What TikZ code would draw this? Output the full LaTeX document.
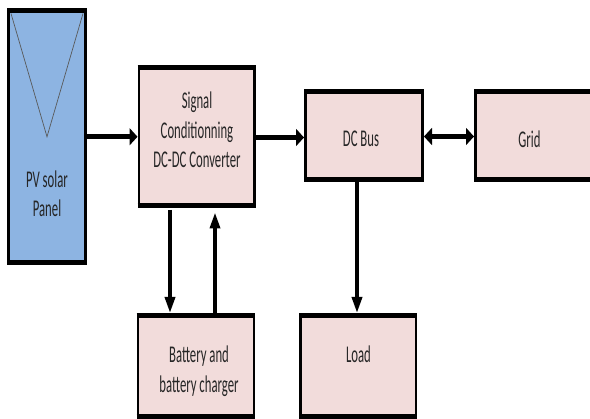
\documentclass[tikz,border=0pt]{standalone}
\usepackage{fontspec}
\setmainfont{Carlito}[FakeStretch=0.53]
\usetikzlibrary{arrows.meta,calc}
\definecolor{boxpink}{HTML}{F2DCDB}
\definecolor{pvblue}{HTML}{8DB4E2}
\definecolor{txtgray}{HTML}{262626}
\begin{document}
\begin{tikzpicture}[x=1pt,y=-1pt,
  blk/.style={draw=black, line width=2.6pt, fill=boxpink, inner sep=0pt, outer sep=0pt},
  lbl/.style={anchor=base, inner sep=0pt, text=txtgray, font=\fontsize{24pt}{29pt}\selectfont},
  harrow/.style={line width=5.5pt, -{Triangle[length=8pt,width=17pt]}},
  harrows/.style={line width=5.5pt, {Triangle[length=8pt,width=17pt]}-{Triangle[length=8pt,width=17pt]}},
  varrow/.style={line width=3.5pt, -{Triangle[length=16pt,width=10pt]}},
  thickedge/.style={line width=5pt}]
\fill[white] (0,0) rectangle (590,419);
\useasboundingbox (0,0) rectangle (590,419);
% boxes
\node[blk, fill=pvblue, minimum width=77pt, minimum height=252.5pt] (pv) at (47,136.75) {};
\node[blk, minimum width=115.5pt, minimum height=138pt] (sig) at (196.75,136.5) {};
\node[blk, minimum width=117pt, minimum height=88pt] (dc) at (364,135.5) {};
\node[blk, minimum width=117pt, minimum height=88pt] (grid) at (534,135.5) {};
\node[blk, minimum width=116pt, minimum height=101.5pt] (bat) at (196,366.25) {};
\node[blk, minimum width=115.5pt, minimum height=101.5pt] (load) at (358.25,366.25) {};
\foreach \n in {pv,sig,dc,grid,bat,load}{
  \draw[thickedge] ($(\n.north west)+(-1.3,0)$) -- ($(\n.north east)+(1.3,0)$);
  \draw[thickedge] ($(\n.south west)+(-1.3,0)$) -- ($(\n.south east)+(1.3,0)$);
}
% PV panel triangle
\draw[black!65, line width=0.7pt] ($(pv.north west)+(2.5,3)$) -- (pv.center) -- ($(pv.north east)+(-2.5,3)$);
% labels
\node[lbl] (pvt1) at (47,188) {PV solar};
\node[lbl] (pvt2) at (47,216.5) {Panel};
\node[lbl] (sigt1) at (197,109) {Signal};
\node[lbl] (sigt2) at (197,139) {Conditionning};
\node[lbl] (sigt3) at (197,168) {DC-DC Converter};
\node[lbl] (dct) at (361,147) {DC Bus};
\node[lbl] (gridt) at (529.5,147.5) {Grid};
\node[lbl] (batt1) at (199,363) {Battery and};
\node[lbl] (batt2) at (199,393) {battery charger};
\node[lbl] (loadt) at (358.5,363) {Load};
% connectors
\draw[harrow, shorten >=1.5pt] (pv.east) -- (pv.east -| sig.west);
\draw[harrow, shorten >=1.5pt] ([yshift=-1pt]sig.east) -- ([yshift=-1pt]sig.east -| dc.west);
\draw[harrows, shorten >=1.5pt, shorten <=1.5pt] ([yshift=-1pt]dc.east) -- ([yshift=-1pt]grid.west);
\draw[varrow, shorten >=2.5pt] ([xshift=-7pt]dc.south) -- ([xshift=-7pt]dc.south |- load.north);
\draw[varrow, shorten <=4.5pt, shorten >=2.5pt] ([xshift=-26.75pt]sig.south) -- ([xshift=-26.75pt]sig.south |- bat.north);
\draw[varrow, shorten >=7pt] ([xshift=19pt]bat.north) -- ([xshift=19pt]bat.north |- sig.south);
\end{tikzpicture}
\end{document}
